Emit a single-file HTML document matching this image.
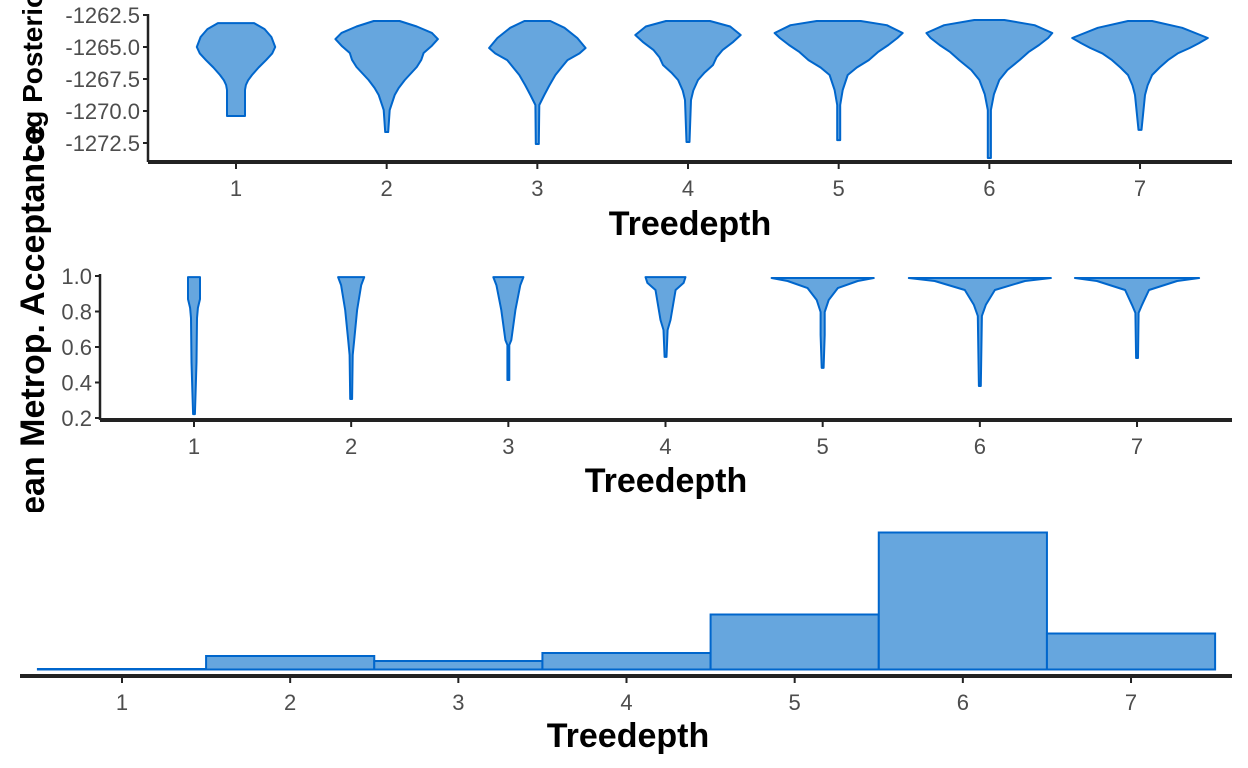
<!DOCTYPE html>
<html><head><meta charset="utf-8"><style>
body{margin:0;background:#fff;}
svg{display:block;font-family:"Liberation Sans",sans-serif;}
.tick{font-size:22px;fill:#4d4d4d;}
.ttl{font-size:34px;font-weight:bold;fill:#000;}
</style></head><body>
<svg id="c" width="1248" height="768" viewBox="0 0 1248 768">
<defs><clipPath id="clipM"><rect x="0" y="0" width="60" height="512"/></clipPath></defs>
</svg>
<script>
const treedepths = [1,2,3,4,5,6,7];
const lpTicks = [-1262.5,-1265.0,-1267.5,-1270.0,-1272.5];
const lpTickLabels = ["-1262.5","-1265.0","-1267.5","-1270.0","-1272.5"];
const accTicks = [1.0,0.8,0.6,0.4,0.2];
const accTickLabels = ["1.0","0.8","0.6","0.4","0.2"];
// violin profiles: [value, half-width in x units]
const lpViolins = [
 [[-1263.13,0.12],[-1263.6,0.19],[-1264.22,0.235],[-1265.0,0.26],[-1265.5,0.24],[-1266.02,0.2],[-1266.6,0.15],[-1267.19,0.106],[-1267.6,0.08],[-1267.97,0.066],[-1268.36,0.06],[-1270.39,0.06]],
 [[-1262.97,0.086],[-1263.4,0.2],[-1263.9,0.3],[-1264.38,0.34],[-1264.9,0.3],[-1265.47,0.245],[-1266.0,0.23],[-1266.56,0.2],[-1267.58,0.12],[-1268.2,0.08],[-1268.75,0.053],[-1269.92,0.02],[-1271.64,0.01]],
 [[-1262.97,0.086],[-1263.5,0.18],[-1264.30,0.265],[-1265.08,0.32],[-1265.5,0.28],[-1266.02,0.2],[-1266.6,0.16],[-1267.19,0.12],[-1268.0,0.08],[-1268.75,0.046],[-1269.53,0.013],[-1272.58,0.01]],
 [[-1262.97,0.146],[-1263.4,0.28],[-1264.06,0.35],[-1264.6,0.3],[-1265.23,0.23],[-1265.8,0.19],[-1266.41,0.166],[-1267.0,0.11],[-1267.58,0.066],[-1268.4,0.035],[-1269.14,0.02],[-1272.42,0.01]],
 [[-1262.97,0.146],[-1263.3,0.32],[-1263.91,0.425],[-1264.3,0.39],[-1264.84,0.33],[-1265.4,0.26],[-1266.02,0.2],[-1266.6,0.12],[-1267.19,0.06],[-1268.36,0.027],[-1269.53,0.01],[-1272.27,0.01]],
 [[-1262.89,0.1],[-1263.3,0.3],[-1263.91,0.418],[-1264.3,0.39],[-1264.84,0.33],[-1265.4,0.26],[-1266.02,0.2],[-1266.8,0.12],[-1267.58,0.066],[-1268.7,0.03],[-1269.92,0.01],[-1273.67,0.01]],
 [[-1262.97,0.08],[-1263.5,0.28],[-1264.30,0.45],[-1264.7,0.39],[-1265.08,0.33],[-1265.5,0.25],[-1266.02,0.186],[-1266.6,0.13],[-1267.19,0.08],[-1268.0,0.05],[-1268.75,0.033],[-1271.48,0.01]]
];
const accViolins = [
 [[0.994,0.038],[0.870,0.038],[0.820,0.025],[0.763,0.019],[0.515,0.016],[0.346,0.01],[0.222,0.006]],
 [[0.994,0.083],[0.949,0.064],[0.808,0.038],[0.639,0.019],[0.555,0.01],[0.307,0.006]],
 [[0.994,0.096],[0.949,0.076],[0.808,0.045],[0.639,0.019],[0.611,0.006],[0.414,0.006]],
 [[0.994,0.127],[0.961,0.115],[0.921,0.064],[0.752,0.032],[0.696,0.013],[0.544,0.006]],
 [[0.989,0.325],[0.972,0.223],[0.932,0.096],[0.865,0.038],[0.797,0.013],[0.668,0.013],[0.482,0.006]],
 [[0.989,0.452],[0.972,0.287],[0.921,0.096],[0.837,0.038],[0.775,0.013],[0.380,0.006]],
 [[0.989,0.395],[0.972,0.255],[0.921,0.076],[0.837,0.032],[0.792,0.01],[0.538,0.006]]
];
const counts = [0.5,13.5,8.5,16.5,55,137,36];

const svg = document.getElementById('c');
const NS = 'http://www.w3.org/2000/svg';
function mk(tag, attrs, parent){const e=document.createElementNS(NS,tag);for(const k in attrs)e.setAttribute(k,attrs[k]);(parent||svg).appendChild(e);return e;}
const FILL='#66a6de', STROKE='#0066cc';

const x1 = d => 236 + (d-1)*150.67;
const y1 = v => 15 + (-1262.5 - v)/2.5*32;
const x2 = d => 194 + (d-1)*157.17;
const y2 = v => 276 + (1.0 - v)/0.8*142;
const x3 = d => 122 + (d-1)*168.17;
const y3 = c => 669.5 - c;

function violin(prof, cx, xs, ys, name){
  const unit = xs(2)-xs(1);
  let left = prof.map(p=>[cx - p[1]*unit, ys(p[0])]);
  let right = prof.slice().reverse().map(p=>[cx + p[1]*unit, ys(p[0])]);
  const pts = left.concat(right).map(p=>p[0].toFixed(1)+','+p[1].toFixed(1)).join(' ');
  const el = mk('polygon',{points:pts,fill:FILL,stroke:STROKE,'stroke-width':2,'stroke-linejoin':'round'});
  
  
}
function panelAxes(xAxisY, xStart, yAxisX, yTop, ticks, labels, ys, xs, labelX, labelY, prefix){
  const ax = mk('line',{x1:xStart,x2:1232,y1:xAxisY,y2:xAxisY,stroke:'#222','stroke-width':4});
  
  
  if(yAxisX!==null){
    const ay = mk('line',{x1:yAxisX,x2:yAxisX,y1:yTop,y2:xAxisY,stroke:'#222','stroke-width':2.5});
    
    
    ticks.forEach((t,i)=>{
      mk('line',{x1:yAxisX-5,x2:yAxisX,y1:ys(t),y2:ys(t),stroke:'#222','stroke-width':2});
      const tx = mk('text',{x:yAxisX-8,y:ys(t)+8,'text-anchor':'end',class:'tick'});
      tx.textContent = labels[i];
      
      
    });
  }
  treedepths.forEach(d=>{
    mk('line',{x1:xs(d),x2:xs(d),y1:xAxisY+2,y2:xAxisY+7,stroke:'#222','stroke-width':2});
    const tx = mk('text',{x:xs(d),y:xAxisY+34,'text-anchor':'middle',class:'tick'});
    tx.textContent = d;
    
    
  });
  const t = mk('text',{x:labelX,y:labelY,'text-anchor':'middle',class:'ttl'});
  t.textContent = 'Treedepth';
  
  
}

lpViolins.forEach((p,i)=>violin(p, x1(treedepths[i]), x1, y1, 'log-posterior-violin-'+treedepths[i]));
panelAxes(162,148,148,14,lpTicks,lpTickLabels,y1,x1,690,235,'log-posterior');

accViolins.forEach((p,i)=>violin(p, x2(treedepths[i]), x2, y2, 'accept-stat-violin-'+treedepths[i]));
panelAxes(420,100,100,274,accTicks,accTickLabels,y2,x2,666,492,'accept-stat');

counts.forEach((c,i)=>{
  const d = treedepths[i];
  const r = mk('rect',{x:x3(d-0.5),y:y3(c),width:x3(d+0.5)-x3(d-0.5),height:c,fill:FILL,stroke:STROKE,'stroke-width':2});
  
  
});
panelAxes(676,20,null,0,[],[],null,x3,628,747,'treedepth-hist');

const g = mk('g',{'clip-path':'url(#clipM)'});
const t2 = mk('text',{transform:'translate(44,125) rotate(-90)','text-anchor':'end',class:'ttl'},g);
t2.textContent = 'Mean Metrop. Acceptance';


const t1 = mk('text',{transform:'translate(42,162) rotate(-90)','text-anchor':'start',class:'ttl','font-size':'28'});
t1.setAttribute('style','font-size:28px');
t1.textContent = 'Log Posterior';


</script>
</body></html>
